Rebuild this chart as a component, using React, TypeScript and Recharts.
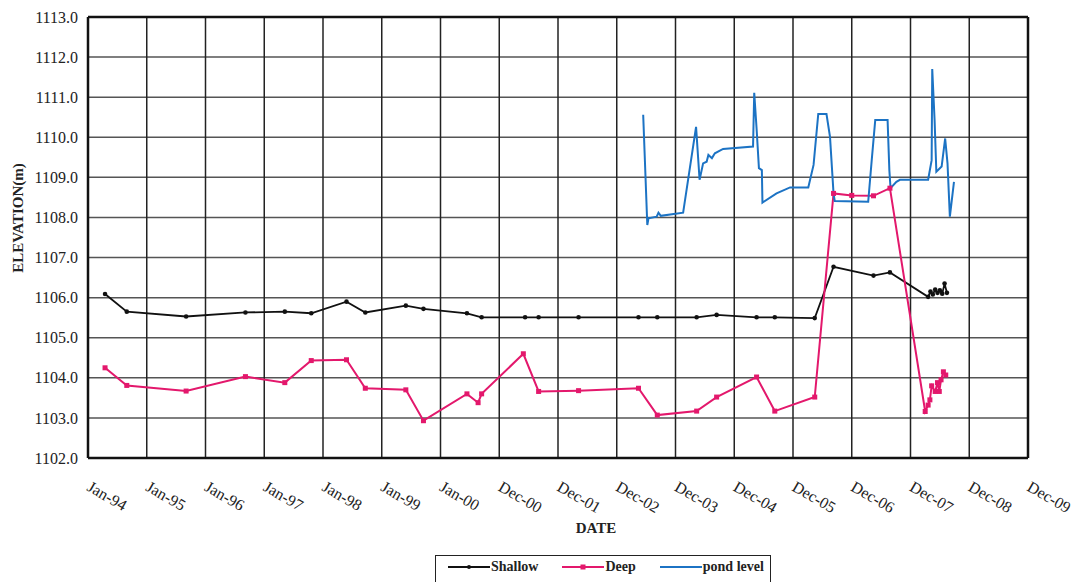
import React from "react";
import {
  LineChart,
  Line,
  XAxis,
  YAxis,
  CartesianGrid,
  Legend,
  ReferenceLine,
} from "recharts";

// x positions are in "tick units": 0 = Jan-94, 1 = Jan-95 ... 16 = Dec-09
const tickLabels = [
  "Jan-94", "Jan-95", "Jan-96", "Jan-97", "Jan-98", "Jan-99", "Jan-00",
  "Dec-00", "Dec-01", "Dec-02", "Dec-03", "Dec-04", "Dec-05", "Dec-06",
  "Dec-07", "Dec-08", "Dec-09",
];
const yTicks = [1102, 1103, 1104, 1105, 1106, 1107, 1108, 1109, 1110, 1111, 1112, 1113];
const seriesNames = ["Shallow", "Deep", "pond level"];

const shallowX = [
  0.29, 0.66, 1.67, 2.68, 3.35, 3.8, 4.4, 4.72, 5.41, 5.71, 6.45, 6.7, 7.44, 7.67,
  8.35, 9.37, 9.69, 10.36, 10.7, 11.38, 11.69, 12.37, 12.69, 13.37, 13.65, 14.3,
  14.34, 14.38, 14.42, 14.46, 14.5, 14.54, 14.58, 14.62,
];
const shallowY = [
  1106.09, 1105.65, 1105.53, 1105.63, 1105.65, 1105.61, 1105.9, 1105.63, 1105.8,
  1105.72, 1105.61, 1105.51, 1105.51, 1105.51, 1105.51, 1105.51, 1105.51, 1105.51,
  1105.57, 1105.51, 1105.51, 1105.49, 1106.77, 1106.55, 1106.63, 1106.02, 1106.15,
  1106.08, 1106.2, 1106.12, 1106.18, 1106.1, 1106.35, 1106.12,
];

const deepX = [
  0.29, 0.66, 1.67, 2.68, 3.35, 3.8, 4.4, 4.72, 5.41, 5.71, 6.45, 6.64, 6.7, 7.41,
  7.67, 8.35, 9.37, 9.69, 10.36, 10.7, 11.38, 11.69, 12.37, 12.69, 13.0, 13.37,
  13.65, 14.25, 14.3, 14.33, 14.36, 14.42, 14.46, 14.49, 14.52, 14.56, 14.6,
];
const deepY = [
  1104.25, 1103.81, 1103.67, 1104.03, 1103.88, 1104.43, 1104.45, 1103.74, 1103.7,
  1102.93, 1103.6, 1103.38, 1103.6, 1104.6, 1103.66, 1103.68, 1103.74, 1103.07,
  1103.17, 1103.52, 1104.02, 1103.17, 1103.52, 1108.6, 1108.55, 1108.54, 1108.73,
  1103.16, 1103.32, 1103.45, 1103.8, 1103.66, 1103.88, 1103.66, 1103.95, 1104.15,
  1104.07,
];

const pondX = [
  9.45, 9.52, 9.54, 9.68, 9.71, 9.75, 10.13, 10.35, 10.41, 10.47, 10.53, 10.56,
  10.62, 10.67, 10.81, 11.32, 11.34, 11.38, 11.42, 11.47, 11.48, 11.72, 11.95,
  12.26, 12.35, 12.43, 12.57, 12.63, 12.69, 12.71, 13.28, 13.34, 13.4, 13.61,
  13.64, 13.66, 13.76, 13.82, 14.3, 14.36, 14.37, 14.41, 14.44, 14.53, 14.59,
  14.63, 14.67, 14.74,
];
const pondY = [
  1110.56, 1107.81, 1107.98, 1108.02, 1108.12, 1108.04, 1108.12, 1110.26, 1108.94,
  1109.35, 1109.39, 1109.56, 1109.48, 1109.6, 1109.71, 1109.77, 1111.11, 1110.22,
  1109.23, 1109.18, 1108.37, 1108.6, 1108.75, 1108.75, 1109.31, 1110.58, 1110.58,
  1110.01, 1108.6, 1108.41, 1108.39, 1109.43, 1110.43, 1110.43, 1109.18, 1108.73,
  1108.89, 1108.94, 1108.94, 1109.43, 1111.7, 1110.43, 1109.14, 1109.27, 1109.97,
  1109.35, 1108.02, 1108.89,
];

const SHALLOW = "#111111";
const DEEP = "#e3186c";
const POND = "#1c73c4";
const SERIF = '"Liberation Serif", "Times New Roman", serif';

const zip = (xs: number[], ys: number[]) => xs.map((x, i) => ({ x, y: ys[i] }));
const shallowData = zip(shallowX, shallowY);
const deepData = zip(deepX, deepY);
const pondData = zip(pondX, pondY);

const xTicks = tickLabels.map((_, i) => i);

function XTick(props: any) {
  const { x, y, payload } = props;
  const bx = x - 2;
  const by = y + 32;
  return (
    <text
      x={bx}
      y={by}
      transform={`rotate(30 ${bx} ${by})`}
      textAnchor="start"
      fontFamily={SERIF}
      fontSize={16}
      fill="#222"
    >
      {tickLabels[payload.value]}
    </text>
  );
}

function ShallowDot(props: any) {
  const { cx, cy, index } = props;
  if (cx == null || cy == null) return <g key={index} />;
  return <circle key={index} cx={cx} cy={cy} r={2.3} fill={SHALLOW} />;
}

function DeepDot(props: any) {
  const { cx, cy, index } = props;
  if (cx == null || cy == null) return <g key={index} />;
  return <rect key={index} x={cx - 2.5} y={cy - 2.5} width={5} height={5} fill={DEEP} />;
}

function LegendBox(props: any) {
  const items = [...(props.payload || [])].sort(
    (a: any, b: any) => seriesNames.indexOf(a.value) - seriesNames.indexOf(b.value)
  );
  return (
    <div
      style={{
        border: "1.5px solid #222",
        height: 30,
        display: "flex",
        alignItems: "flex-start",
        paddingTop: 3,
        boxSizing: "border-box",
        fontFamily: SERIF,
        fontSize: 14,
        fontWeight: "bold",
        color: "#222",
      }}
    >
      {items.map((it: any, i: number) => (
        <div
          key={i}
          style={{ display: "flex", alignItems: "center", marginLeft: i === 0 ? 12 : 24 }}
        >
          <svg width={42} height={12}>
            <line x1={0} y1={6} x2={42} y2={6} stroke={it.color} strokeWidth={2} />
            {it.value === "Shallow" && <circle cx={21} cy={6} r={2} fill={it.color} />}
            {it.value === "Deep" && <rect x={18.5} y={3.5} width={5} height={5} fill={it.color} />}
          </svg>
          <span style={{ marginLeft: 1 }}>{it.value}</span>
        </div>
      ))}
    </div>
  );
}

export default function App() {
  return (
    <div style={{ position: "absolute", left: 0, top: 0, background: "#fff" }}>
      <LineChart
        width={1081}
        height={582}
        margin={{ top: 17, right: 53, left: 0, bottom: 0 }}
      >
        <CartesianGrid vertical={false} stroke="#555" strokeWidth={1.5} />
        <CartesianGrid horizontal={false} stroke="#222" strokeWidth={1.5} />
        <XAxis
          dataKey="x"
          type="number"
          domain={[0, 16]}
          ticks={xTicks}
          interval={0}
          height={124}
          tickLine={false}
          tickSize={0}
          tickMargin={0}
          axisLine={{ stroke: "#111", strokeWidth: 2.5 }}
          tick={<XTick />}
          label={() => (
            <text
              x={596}
              y={533}
              textAnchor="middle"
              fontFamily={SERIF}
              fontWeight="bold"
              fontSize={15}
              fill="#222"
            >
              DATE
            </text>
          )}
        />
        <YAxis
          type="number"
          domain={[1102, 1113]}
          ticks={yTicks}
          interval={0}
          width={88}
          tickLine={false}
          tickSize={0}
          tickMargin={10}
          axisLine={{ stroke: "#111", strokeWidth: 2.5 }}
          tickFormatter={(v: number) => v.toFixed(1)}
          tick={{ fontFamily: SERIF, fontSize: 16, fill: "#222" }}
          label={() => (
            <text
              x={23}
              y={218}
              transform="rotate(-90 23 218)"
              textAnchor="middle"
              fontFamily={SERIF}
              fontWeight="bold"
              fontSize={15}
              fill="#222"
            >
              ELEVATION(m)
            </text>
          )}
        />
        <ReferenceLine y={1113} stroke="#111" strokeWidth={2.5} />
        <ReferenceLine x={16} stroke="#111" strokeWidth={2.5} />
        <Line
          name="Shallow"
          data={shallowData}
          dataKey="y"
          stroke={SHALLOW}
          strokeWidth={1.8}
          dot={<ShallowDot />}
          isAnimationActive={false}
        />
        <Line
          name="Deep"
          data={deepData}
          dataKey="y"
          stroke={DEEP}
          strokeWidth={2}
          dot={<DeepDot />}
          isAnimationActive={false}
        />
        <Line
          name="pond level"
          data={pondData}
          dataKey="y"
          stroke={POND}
          strokeWidth={2}
          dot={false}
          isAnimationActive={false}
        />
        <Legend
          layout="horizontal"
          verticalAlign="middle"
          align="center"
          content={<LegendBox />}
          wrapperStyle={{ top: 555, left: 435, width: 336 }}
        />
      </LineChart>
    </div>
  );
}
